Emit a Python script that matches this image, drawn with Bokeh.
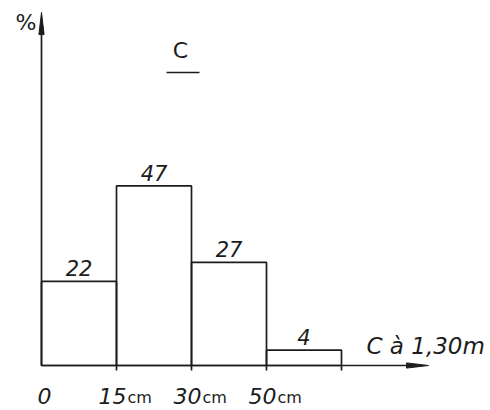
from bokeh.plotting import figure
from bokeh.models import Range1d, ColumnDataSource
from bokeh.core.properties import value
from bokeh.embed import file_html
from bokeh.resources import INLINE

# ---- data ----
classes = ["0-15cm", "15-30cm", "30-50cm", ">50cm"]
percent = [22, 47, 27, 4]
tick_pos = [0, 1, 2, 3]
tick_num = ["0", "15", "30", "50"]
tick_unit = ["", "cm", "cm", "cm"]
title_text = "C"
x_title = "C à 1,30m"
y_title = "%"

# ---- geometry (pixels per unit) ----
W, H = 490, 410
OX, OY = 41, 365          # page position of the origin
PXX = 75.0
PXY = 3.82
X0, X1 = -OX / PXX, (W - OX) / PXX
Y0, Y1 = -(H - OY) / PXY, OY / PXY
INK = "#1c1c1c"
LW = 1.7
FONT = value("DejaVu Sans")

p = figure(frame_width=W, frame_height=H,
           x_range=Range1d(X0, X1), y_range=Range1d(Y0, Y1),
           output_backend="svg", toolbar_location=None, min_border=0)
p.axis.visible = False
p.grid.visible = False
p.outline_line_color = None
p.background_fill_color = "white"
p.border_fill_color = "white"

n = len(percent)
src = ColumnDataSource(dict(
    left=[i for i in range(n)],
    right=[i + 1 for i in range(n)],
    mid=[i + 0.5 for i in range(n)],
    top=percent,
    lab=[str(v) for v in percent],
))

# bars (outlined, no fill)
p.quad(left="left", right="right", bottom=0, top="top", source=src,
       fill_color=None, line_color=INK, line_width=LW)

# value labels
p.text(x="mid", y="top", text="lab", source=src, text_font=FONT,
       text_font_style="italic", text_font_size="21px", text_color=INK,
       text_align="center", text_baseline="bottom", y_offset=-5)

# axes drawn as arrows
x_tip = (428 - OX) / PXX
y_tip = (OY - 12) / PXY
p.segment(x0=[0, 0], y0=[0, 0], x1=[x_tip - 10 / PXX, 0], y1=[0, y_tip - 10 / PXY],
          line_color=INK, line_width=LW)
head_len, head_hw = 22, 2.6
p.patch(x=[x_tip, x_tip - head_len / PXX, x_tip - head_len / PXX],
        y=[0, head_hw / PXY, -head_hw / PXY], fill_color=INK, line_color=INK, line_width=1)
p.patch(x=[0, -head_hw / PXX, head_hw / PXX],
        y=[y_tip, y_tip - head_len / PXY, y_tip - head_len / PXY],
        fill_color=INK, line_color=INK, line_width=1)

# small tick marks under bar edges
edges = [i + 1 for i in range(n)]
p.segment(x0=edges, y0=[0] * n, x1=edges, y1=[-5 / PXY] * n, line_color=INK, line_width=LW)

# tick labels
tsrc = ColumnDataSource(dict(x=tick_pos, y=[0] * len(tick_pos), num=tick_num, unit=tick_unit))
p.text(x="x", y="y", text="num", source=tsrc, text_font=FONT, text_font_style="italic",
       text_font_size="22px", text_color=INK, text_align="right", text_baseline="middle",
       x_offset=10, y_offset=30)
p.text(x="x", y="y", text="unit", source=tsrc, text_font=FONT,
       text_font_size="16px", text_color=INK, text_align="left", text_baseline="middle",
       x_offset=11, y_offset=32)

# axis titles
p.text(x=[x_tip], y=[0], text=[x_title], text_font=FONT, text_font_style="italic",
       text_font_size="23px", text_color=INK, text_align="left", text_baseline="middle",
       x_offset=-62, y_offset=-20)
p.text(x=[0], y=[y_tip], text=[y_title], text_font=FONT,
       text_font_size="22px", text_color=INK, text_align="right", text_baseline="middle",
       x_offset=-5, y_offset=10)

# panel title "C" underlined
tx, ty = (180 - OX) / PXX, (OY - 50) / PXY
p.text(x=[tx], y=[ty], text=[title_text], text_font=FONT, text_font_size="22px",
       text_color=INK, text_align="center", text_baseline="middle")
p.segment(x0=[tx - 14 / PXX], y0=[ty - 22 / PXY], x1=[tx + 19 / PXX], y1=[ty - 22 / PXY],
          line_color=INK, line_width=LW)

open("out.html", "w").write(file_html(p, INLINE))
